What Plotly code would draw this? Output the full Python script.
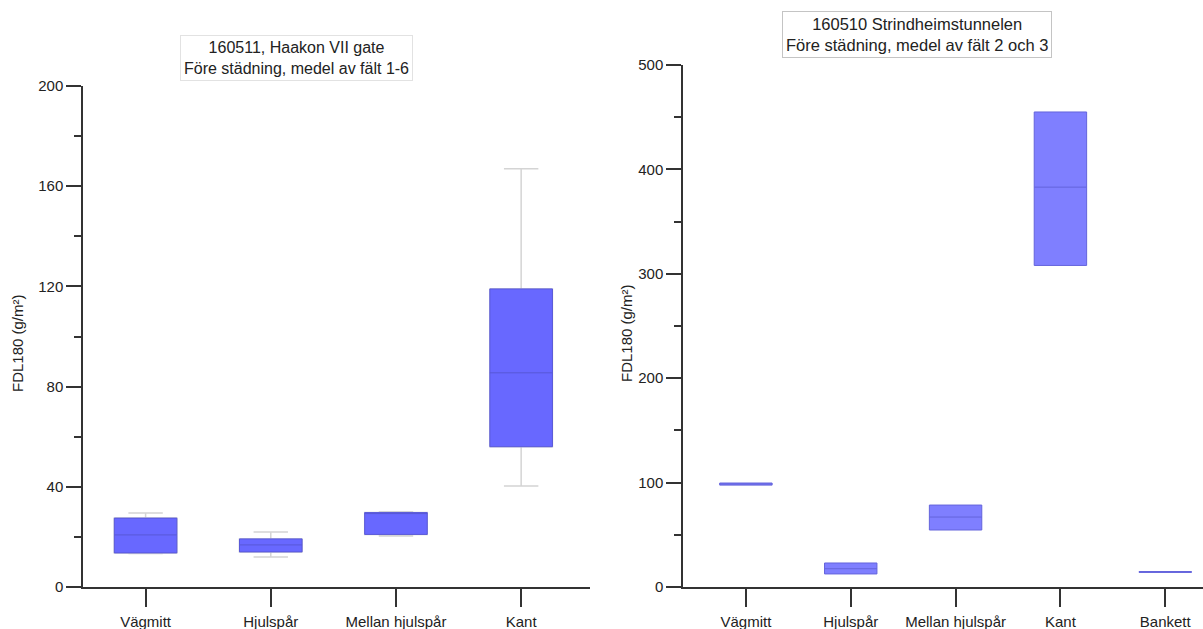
import plotly.graph_objects as go

# ---- data: left panel (160511, Haakon VII gate) ----
left_categories = ["Vägmitt", "Hjulspår", "Mellan hjulspår", "Kant"]
left_q1 = [13.6, 14.0, 21.0, 56.0]
left_median = [20.8, 16.8, 29.5, 85.5]
left_q3 = [27.5, 19.2, 29.7, 119.0]
left_low = [13.4, 12.0, 20.4, 40.3]
left_high = [29.5, 22.0, 30.0, 167.0]

# ---- data: right panel (160510 Strindheimstunnelen) ----
right_categories = ["Vägmitt", "Hjulspår", "Mellan hjulspår", "Kant", "Bankett"]
right_q1 = [97.6, 12.5, 54.6, 308.0, 14.0]
right_median = [98.7, 17.5, 67.0, 383.0, 14.4]
right_q3 = [99.6, 23.0, 78.5, 455.0, 14.8]

W, H = 1203, 629
font = "Liberation Sans, Arial, sans-serif"

fig = go.Figure()

# left whiskers (grey)
fig.add_trace(go.Box(
    x=left_categories, q1=left_q1, median=left_median, q3=left_q3,
    lowerfence=left_low, upperfence=left_high,
    xaxis="x", yaxis="y", width=0.5, whiskerwidth=0.55,
    line=dict(color="#d4d4d4", width=1.5), fillcolor="rgba(0,0,0,0)",
    boxpoints=False, hoverinfo="skip", showlegend=False))
# left boxes (blue)
fig.add_trace(go.Box(
    x=left_categories, q1=left_q1, median=left_median, q3=left_q3,
    lowerfence=left_q1, upperfence=left_q3,
    xaxis="x", yaxis="y", width=0.5, whiskerwidth=0,
    line=dict(color="rgb(88,88,215)", width=1), fillcolor="rgb(104,104,255)",
    boxpoints=False, showlegend=False))
# right boxes
fig.add_trace(go.Box(
    x=right_categories, q1=right_q1, median=right_median, q3=right_q3,
    lowerfence=right_q1, upperfence=right_q3,
    xaxis="x2", yaxis="y2", width=0.5, whiskerwidth=0,
    line=dict(color="rgb(100,100,220)", width=1), fillcolor="rgb(127,127,255)",
    boxpoints=False, showlegend=False))

ybot = 1 - 587 / H
axis_common = dict(showline=True, linecolor="#333", linewidth=1.5, showgrid=False,
                   zeroline=False, ticks="outside", tickcolor="#333", tickwidth=1.5,
                   automargin=False,
                   tickfont=dict(family=font, size=15, color="#222"))

fig.update_layout(
    width=W, height=H, margin=dict(l=0, r=0, t=0, b=0, pad=0),
    paper_bgcolor="white", plot_bgcolor="white", boxmode="overlay",
    font=dict(family=font, size=15, color="#222"),
    xaxis=dict(domain=[83 / W, 590 / W], range=[-0.5, 3.55], anchor="y",
               ticklen=18, ticklabelstandoff=2, **axis_common),
    yaxis=dict(domain=[ybot, 1 - 86 / H], range=[0, 200], anchor="x",
               tickvals=[0, 40, 80, 120, 160, 200], ticklen=15,
               minor=dict(tickvals=[20, 60, 100, 140, 180], ticklen=7,
                          ticks="outside", tickcolor="#333", tickwidth=1.5),
               **axis_common),
    xaxis2=dict(domain=[683 / W, 1.0], range=[-0.6, 4.36], anchor="y2",
                ticklen=18, ticklabelstandoff=2, **axis_common),
    yaxis2=dict(domain=[ybot, 1 - 65 / H], range=[0, 500], anchor="x2",
                tickvals=[0, 100, 200, 300, 400, 500], ticklen=15,
                minor=dict(tickvals=[50, 150, 250, 350, 450], ticklen=7,
                           ticks="outside", tickcolor="#333", tickwidth=1.5),
                **axis_common),
)

annotations = [
    dict(text="160511, Haakon VII gate<br>Före städning, medel av fält 1-6",
         x=296.5 / W, y=1 - 57.5 / H, xref="paper", yref="paper",
         xanchor="center", yanchor="middle",
         showarrow=False, font=dict(family=font, size=16, color="#222"),
         bordercolor="#e2e2e2", borderwidth=1, borderpad=3, bgcolor="white"),
    dict(text="160510 Strindheimstunnelen<br>Före städning, medel av fält 2 och 3",
         x=917 / W, y=1 - 34.5 / H, xref="paper", yref="paper",
         xanchor="center", yanchor="middle",
         showarrow=False, font=dict(family=font, size=16.5, color="#222"),
         bordercolor="#c4c4c4", borderwidth=1, borderpad=3, bgcolor="white"),
    dict(text="FDL180 (g/m²)", textangle=-90, x=17 / W, y=1 - 343 / H,
         xref="paper", yref="paper", xanchor="center", yanchor="middle",
         showarrow=False, font=dict(family=font, size=15, color="#222")),
    dict(text="FDL180 (g/m²)", textangle=-90, x=626 / W, y=1 - 333 / H,
         xref="paper", yref="paper", xanchor="center", yanchor="middle",
         showarrow=False, font=dict(family=font, size=15, color="#222")),
]
fig.update_layout(annotations=annotations)

fig.write_html(
    "out.html",
    config={"displayModeBar": False},
    post_script="document.body.style.margin='0';document.body.style.overflow='hidden';",
)
